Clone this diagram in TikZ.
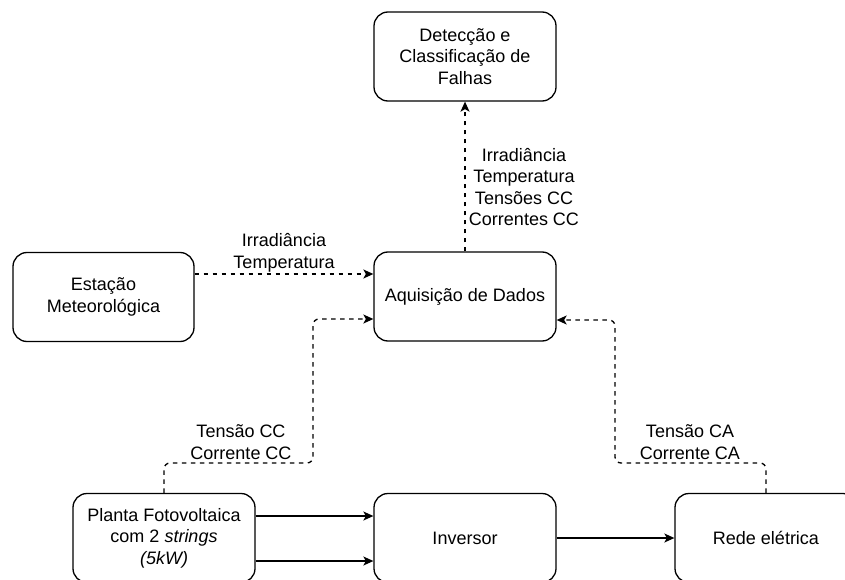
\documentclass[tikz,border=0pt]{standalone}
\usepackage{fontspec}
\setmainfont{Liberation Sans}
\usetikzlibrary{arrows.meta}
\begin{document}
\begin{tikzpicture}[x=1pt,y=-1pt,
  every node/.style={font=\fontsize{18}{21.5}\selectfont},
  box/.style={draw, line width=1.3pt, rounded corners=14pt, minimum width=182pt, minimum height=89pt, align=center, inner sep=2pt},
  lbl/.style={align=center, inner sep=0pt, fill=white},
  tip/.style={-{Stealth[length=10pt,width=9pt,inset=2.5pt]}},
  solidarrow/.style={tip, line width=1.3pt},
  dasharrow/.style={tip, line width=1.3pt, dash pattern=on 4.5pt off 4.5pt, rounded corners=6pt}]
\clip (0,0) rectangle (845,580);
\fill[white] (0,0) rectangle (845,580);
\node[box] (det) at (465,56.5) {Detecção e\\Classificação de\\Falhas};
\node[box] (acq) at (465,296.5) {Aquisição de Dados};
\node[box, minimum width=181pt] (est) at (103.5,297) {Estação\\Meteorológica};
\node[box] (pv) at (164,538) {Planta Fotovoltaica\\com 2 \textit{strings}\\\textit{(5kW)}};
\node[box] (inv) at (465,538) {Inversor};
\node[box] (grid) at (766,538) {Rede elétrica};
% connectors
\draw[dasharrow] (est.east |- 0,274) -- (acq.west |- 0,274);
\draw[dasharrow] (pv.north) -- (pv.north |- 0,463) -- (313,463) -- (313,319) -- (acq.west |- 0,319);
\draw[dasharrow] (grid.north) -- (grid.north |- 0,463) -- (615,463) -- (615,320) -- (acq.east |- 0,320);
\draw[dasharrow] (acq.north) -- (det.south);
\draw[solidarrow] (pv.east |- 0,516) -- (inv.west |- 0,516);
\draw[solidarrow] (pv.east |- 0,561) -- (inv.west |- 0,561);
\draw[solidarrow] (inv.east) -- (grid.west);
% labels
\node[lbl] (l1) at (284,253) {Irradiância\\Temperatura};
\node[lbl] (l2) at (524,187) {Irradiância\\Temperatura\\Tensões CC\\Correntes CC};
\node[lbl] (l3) at (241,442) {Tensão CC\\Corrente CC};
\node[lbl] (l4) at (690,442) {Tensão CA\\Corrente CA};
\end{tikzpicture}
\end{document}
